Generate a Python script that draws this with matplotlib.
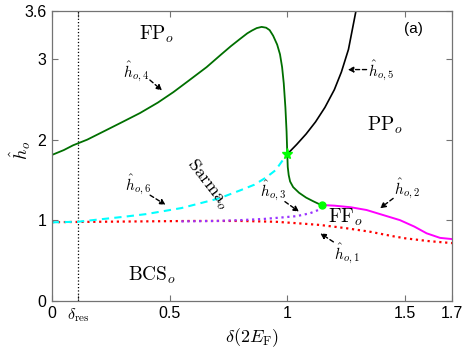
import matplotlib
matplotlib.use("Agg")
import matplotlib.pyplot as plt

plt.rcParams['mathtext.fontset'] = 'cm'
plt.rcParams['font.family'] = ['Liberation Sans', 'DejaVu Sans']

# ---- data ----
delta_res = 0.11

h4_x = [0, 0.05, 0.09, 0.15, 0.232, 0.3, 0.374, 0.45, 0.516, 0.58, 0.657, 0.72, 0.76, 0.799,
        0.83, 0.85, 0.87, 0.891, 0.91, 0.925, 0.94, 0.957, 0.969, 0.978, 0.985, 0.992, 0.997,
        1.0, 1.002, 1.006, 1.012, 1.025, 1.05, 1.08, 1.11, 1.146]
h4_y = [1.81, 1.87, 1.93, 2.00, 2.12, 2.22, 2.33, 2.46, 2.59, 2.73, 2.90, 3.06, 3.16, 3.25,
        3.32, 3.355, 3.385, 3.40, 3.39, 3.36, 3.29, 3.18, 3.06, 2.90, 2.70, 2.40, 2.10,
        1.82, 1.66, 1.56, 1.48, 1.41, 1.34, 1.28, 1.235, 1.185]

h5_x = [1.0, 1.04, 1.08, 1.12, 1.16, 1.20, 1.23, 1.26, 1.292]
h5_y = [1.82, 1.94, 2.07, 2.22, 2.40, 2.62, 2.84, 3.12, 3.6]

h6_x = [0, 0.11, 0.204, 0.3, 0.4, 0.46, 0.55, 0.63, 0.71, 0.8, 0.86, 0.91, 0.95, 0.976, 1.0]
h6_y = [0.973, 0.98, 1.01, 1.04, 1.075, 1.105, 1.15, 1.21, 1.27, 1.37, 1.44, 1.53, 1.62, 1.725, 1.82]

h1_x = [0, 0.2, 0.4, 0.6, 0.8, 0.95, 1.05, 1.14, 1.25, 1.35, 1.45, 1.5, 1.6, 1.7]
h1_y = [0.975, 0.98, 0.985, 0.99, 0.99, 0.98, 0.96, 0.94, 0.90, 0.857, 0.80, 0.775, 0.74, 0.715]

h3_x = [0.55, 0.7, 0.8, 0.9, 0.983, 1.04, 1.096, 1.132, 1.146]
h3_y = [0.985, 0.99, 1.0, 1.015, 1.035, 1.05, 1.085, 1.126, 1.185]

h2_x = [1.146, 1.2, 1.27, 1.337, 1.4, 1.479, 1.54, 1.592, 1.649, 1.7]
h2_y = [1.188, 1.18, 1.16, 1.126, 1.07, 1.0, 0.92, 0.837, 0.78, 0.765]

star_pt = (1.0, 1.82)
dot_pt = (1.146, 1.185)

xticks = [0, delta_res, 0.5, 1, 1.5, 1.7]
xticklabels = ['0', r'$\delta_{\rm res}$', '0.5', '1', '1.5', '1.7']
yticks = [0, 1, 2, 3, 3.6]
yticklabels = ['0', '1', '2', '3', '3.6']

# ---- figure ----
fig = plt.figure(figsize=(4.63, 3.48), dpi=100)
ax = fig.add_axes([0.1123, 0.136, 0.8639, 0.833])

ax.axvline(delta_res, color='black', ls=':', lw=0.9)
ax.plot(h1_x, h1_y, color='#ff0000', ls=':', lw=1.6)
ax.plot(h3_x, h3_y, color='#9933ff', ls=':', lw=1.6)
ax.plot(h6_x, h6_y, color='#00ffff', ls=(0, (3.5, 2.5)), lw=1.5)
ax.plot(h5_x, h5_y, color='black', lw=1.2)
ax.plot(h4_x, h4_y, color='#006f00', lw=1.3)
ax.plot(h2_x, h2_y, color='#ff00ff', lw=1.4)
ax.plot(*star_pt, marker='*', color='#00ff00', ms=8, zorder=5)
ax.plot(*dot_pt, marker='o', color='#00ff00', ms=5, zorder=5)

ax.set_xlim(0, 1.7)
ax.set_ylim(0, 3.6)
ax.set_xticks(xticks)
ax.set_xticklabels(xticklabels)
ax.set_yticks(yticks)
ax.set_yticklabels(yticklabels)
ax.tick_params(direction='in', top=True, right=True, length=4, width=0.8,
               color='0.45', labelsize=11.5, pad=4)
for s in ax.spines.values():
    s.set_color('0.45')
    s.set_linewidth(0.9)

ax.set_xlabel(r'$\delta(2E_{\rm F})$', fontsize=13, va='center', ha='center')
ax.set_ylabel(r'$\hat{h}_o$', fontsize=13, va='center', ha='center')
ax.xaxis.set_label_coords(0.5, -0.127)
ax.yaxis.set_label_coords(-0.08, 0.52)

tkw = dict(fontsize=14, ha='center', va='center')
ax.text(0.446, 3.31, r'$\mathrm{FP}_o$', **tkw)
ax.text(1.415, 2.18, r'$\mathrm{PP}_o$', **tkw)
ax.text(0.424, 0.32, r'$\mathrm{BCS}_o$', **tkw)
ax.text(1.245, 1.03, r'$\mathrm{FF}_o$', **tkw)
ax.text(0.661, 1.45, r'$\mathrm{Sarma}_o$', rotation=-52, fontsize=13,
        ha='center', va='center', rotation_mode='anchor')
ax.text(1.535, 3.37, '(a)', fontsize=11, ha='center', va='center')

akw = dict(arrowstyle='-|>', linestyle=(0, (3, 2)), color='black', lw=1.0,
           mutation_scale=8, shrinkA=0, shrinkB=0)
annots = [
    (r'$\hat{h}_{o,4}$', (0.36, 2.84), (0.416, 2.74), (0.468, 2.61)),
    (r'$\hat{h}_{o,5}$', (1.40, 2.86), (1.337, 2.87), (1.257, 2.87)),
    (r'$\hat{h}_{o,6}$', (0.366, 1.44), (0.417, 1.31), (0.483, 1.19)),
    (r'$\hat{h}_{o,3}$', (0.94, 1.36), (0.99, 1.23), (1.05, 1.105)),
    (r'$\hat{h}_{o,2}$', (1.51, 1.39), (1.45, 1.27), (1.394, 1.147)),
    (r'$\hat{h}_{o,1}$', (1.255, 0.58), (1.196, 0.73), (1.14, 0.837)),
]
for label, tpos, a0, a1 in annots:
    ax.text(*tpos, label, fontsize=11, ha='center', va='center')
    ax.annotate('', xy=a1, xytext=a0, arrowprops=akw)

fig.savefig('out.png', dpi=100)
